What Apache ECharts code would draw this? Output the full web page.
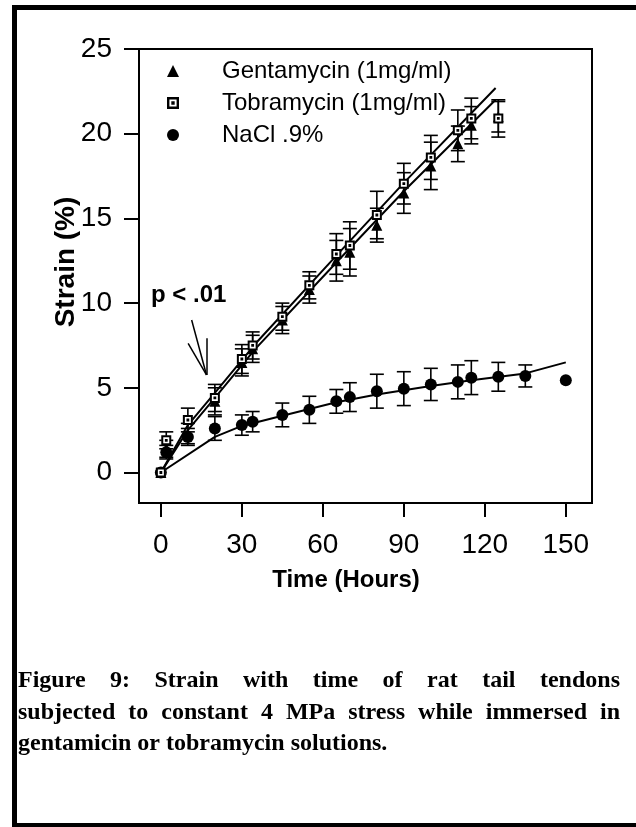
<!DOCTYPE html>
<html>
<head>
<meta charset="utf-8">
<script src="https://cdn.jsdelivr.net/npm/echarts@6.0.0/dist/echarts.min.js"></script>
<style>
  html, body { margin: 0; padding: 0; background: #fff; }
  #chart { width: 636px; height: 827px; }
</style>
</head>
<body>
<div id="chart"></div>
<script>
// sampling times (hours)
var times = [0, 2, 10, 20, 30, 34, 45, 55, 65, 70, 80, 90, 100, 110, 115, 125];
var gentaMean = [0, 1.4, 2.3, 4.2, 6.5, 7.3, 9.0, 10.8, 12.5, 13.0, 14.6, 16.5, 18.1, 19.4, 20.5, 21.0];
var gentaErr  = [0, 0.5, 0.6, 0.8, 0.8, 0.8, 0.8, 0.8, 1.2, 1.4, 1.0, 1.2, 1.4, 1.05, 1.1, 0.9];
var tobraMean = [0, 1.9, 3.1, 4.4, 6.7, 7.5, 9.2, 11.05, 12.9, 13.4, 15.2, 17.05, 18.6, 20.2, 20.9, 20.9];
var tobraErr  = [0, 0.5, 0.7, 0.8, 0.85, 0.8, 0.8, 0.8, 1.2, 1.4, 1.4, 1.2, 1.3, 1.2, 1.2, 1.1];

var naclTimes = [0, 2, 10, 20, 30, 34, 45, 55, 65, 70, 80, 90, 100, 110, 115, 125, 135, 150];
var naclMean  = [0, 1.2, 2.1, 2.6, 2.8, 3.0, 3.4, 3.7, 4.2, 4.45, 4.8, 4.95, 5.2, 5.35, 5.6, 5.65, 5.7, 5.45];
var naclErr   = [0, 0.4, 0.5, 0.7, 0.6, 0.6, 0.7, 0.8, 0.7, 0.85, 1.0, 1.0, 0.95, 1.0, 1.0, 0.85, 0.65, 0];

// fitted lines as drawn in the figure
var drugFitT  = [0, 10, 20, 35, 65, 90, 124];
var tobraFitS = [0, 2.8, 4.7, 7.6, 12.8, 17.1, 22.7];
var gentaFitS = [0, 2.5, 4.4, 7.3, 12.4, 16.6, 22.0];
var naclFitT  = [0, 20, 30, 45, 65, 80, 100, 115, 135, 150];
var naclFitS  = [0, 2.1, 2.75, 3.35, 4.15, 4.6, 5.1, 5.45, 5.85, 6.5];

// axis ticks
var xTicks = [0, 30, 60, 90, 120, 150];
var yTicks = [0, 5, 10, 15, 20, 25];

// "p < .01" arrow (shaft + two barbs), data units
var arrowTail = [11.4, 9.0];
var arrowTip = [16.9, 5.76];
var arrowBarbs = [[10.1, 7.63], [16.9, 7.92]];

var captionLines = [
  'Figure 9: Strain with time of rat tail tendons',
  'subjected to constant 4 MPa stress while immersed in',
  'gentamicin or tobramycin solutions.'
];

var SANS = '"Liberation Sans", Arial, Helvetica, sans-serif';
var SERIF = '"Liberation Serif", "Times New Roman", serif';
var squareIcon = 'path://M0,0H10V10H0Z M2,2V8H8V2Z M3.6,3.6H6.4V6.4H3.6Z';

function zip(a, b) {
  var out = [];
  for (var i = 0; i < a.length; i++) out.push([a[i], b[i]]);
  return out;
}
function zip3(a, b, c) {
  var out = [];
  for (var i = 0; i < a.length; i++) out.push([a[i], b[i], c[i]]);
  return out;
}

// error bar with caps
function errorItem(params, api) {
  var x = api.value(0), y = api.value(1), e = api.value(2);
  if (!e) return { type: 'group', children: [] };
  var top = api.coord([x, y + e]);
  var bot = api.coord([x, y - e]);
  var w = 7;
  var st = { stroke: '#000', lineWidth: 1.6 };
  return {
    type: 'group',
    children: [
      { type: 'line', shape: { x1: top[0], y1: top[1], x2: bot[0], y2: bot[1] }, style: st },
      { type: 'line', shape: { x1: top[0] - w, y1: top[1], x2: top[0] + w, y2: top[1] }, style: st },
      { type: 'line', shape: { x1: bot[0] - w, y1: bot[1], x2: bot[0] + w, y2: bot[1] }, style: st }
    ]
  };
}

function errSeries(data) {
  return {
    type: 'custom', renderItem: errorItem, data: data, z: 3,
    encode: { x: 0, y: 1 }, silent: true
  };
}

function fitSeries(data, extra) {
  var s = {
    type: 'line', data: data, showSymbol: false, symbol: 'none', z: 2, silent: true,
    lineStyle: { color: '#000', width: 2 }
  };
  for (var k in extra) s[k] = extra[k];
  return s;
}

// caption words laid out justified like the printed page
function captionGraphics() {
  var font = 'bold 24px ' + SERIF;
  var ctx = document.createElement('canvas').getContext('2d');
  ctx.font = font;
  var left = 18, right = 620, y0 = 681, pitch = 31.5;
  var els = [];
  captionLines.forEach(function (line, li) {
    var y = y0 + li * pitch;
    var words = line.split(' ');
    var justify = li < captionLines.length - 1;
    var widths = words.map(function (w) { return ctx.measureText(w).width; });
    var sum = widths.reduce(function (a, b) { return a + b; }, 0);
    var gap = justify ? (right - left - sum) / (words.length - 1) : ctx.measureText(' ').width;
    var x = left;
    words.forEach(function (w, i) {
      els.push({ type: 'text', x: x, y: y, silent: true,
        style: { text: w, font: font, fill: '#000', textAlign: 'left', textVerticalAlign: 'middle' } });
      x += widths[i] + gap;
    });
  });
  return els;
}

var chart = echarts.init(document.getElementById('chart'));

var option = {
  backgroundColor: '#fff',
  animation: false,
  grid: {
    left: 139, top: 49, width: 453, height: 454,
    show: true, borderColor: '#000', borderWidth: 2, backgroundColor: 'transparent'
  },
  legend: {
    orient: 'vertical', left: 162, top: 54,
    itemWidth: 12, itemHeight: 12, itemGap: 8,
    selectedMode: false,
    textStyle: { fontFamily: SANS, fontSize: 24, color: '#000', lineHeight: 24, padding: [0, 0, 0, 38] },
    data: [
      { name: 'Gentamycin (1mg/ml)', icon: 'triangle' },
      { name: 'Tobramycin (1mg/ml)', icon: squareIcon },
      { name: 'NaCl .9%', icon: 'circle' }
    ]
  },
  xAxis: {
    type: 'value', min: -8.1, max: 159.7,
    splitLine: { show: false },
    axisLine: { show: true, onZero: false, lineStyle: { color: '#000', width: 2 } },
    axisTick: { show: true, length: 14, customValues: xTicks, lineStyle: { color: '#000', width: 2 } },
    axisLabel: { customValues: xTicks, margin: 28, color: '#000', fontFamily: SANS, fontSize: 28 }
  },
  yAxis: {
    type: 'value', min: -1.8, max: 25,
    splitLine: { show: false },
    axisLine: { show: true, onZero: false, lineStyle: { color: '#000', width: 2 } },
    axisTick: { show: true, length: 15, customValues: yTicks, lineStyle: { color: '#000', width: 2 } },
    axisLabel: { customValues: yTicks, margin: 27, color: '#000', fontFamily: SANS, fontSize: 28 }
  },
  series: [
    fitSeries(zip(drugFitT, tobraFitS), {
      markLine: {
        silent: true, symbol: ['none', 'none'], label: { show: false },
        lineStyle: { color: '#000', width: 1.5, type: 'solid' },
        data: [
          [{ coord: arrowTail }, { coord: arrowTip }],
          [{ coord: arrowBarbs[0] }, { coord: arrowTip }],
          [{ coord: arrowBarbs[1] }, { coord: arrowTip }]
        ]
      }
    }),
    fitSeries(zip(drugFitT, gentaFitS)),
    fitSeries(zip(naclFitT, naclFitS)),
    errSeries(zip3(times, gentaMean, gentaErr)),
    errSeries(zip3(times, tobraMean, tobraErr)),
    errSeries(zip3(naclTimes, naclMean, naclErr)),
    {
      name: 'NaCl .9%', type: 'scatter', z: 4, symbol: 'circle', symbolSize: 12,
      itemStyle: { color: '#000', opacity: 1 }, data: zip(naclTimes, naclMean)
    },
    {
      name: 'Gentamycin (1mg/ml)', type: 'scatter', z: 4, symbol: 'triangle', symbolSize: 11,
      itemStyle: { color: '#000', opacity: 1 }, data: zip(times, gentaMean)
    },
    // white backing so the open squares hide what lies under them
    {
      type: 'scatter', z: 5, symbol: 'rect', symbolSize: 9, silent: true,
      itemStyle: { color: '#fff', opacity: 1 }, data: zip(times, tobraMean)
    },
    {
      name: 'Tobramycin (1mg/ml)', type: 'scatter', z: 6, symbol: squareIcon, symbolSize: 10,
      itemStyle: { color: '#000', opacity: 1 }, data: zip(times, tobraMean)
    }
  ],
  graphic: [
    // outer page frame
    { type: 'rect', silent: true, shape: { x: 14.5, y: 7.5, width: 700, height: 818 },
      style: { fill: 'none', stroke: '#000', lineWidth: 5 } },
    { type: 'text', x: 346, y: 580, silent: true,
      style: { text: 'Time (Hours)', font: 'bold 24px ' + SANS, fill: '#000', textAlign: 'center', textVerticalAlign: 'middle' } },
    { type: 'text', x: 66, y: 262, rotation: Math.PI / 2, silent: true,
      style: { text: 'Strain (%)', font: 'bold 28px ' + SANS, fill: '#000', textAlign: 'center', textVerticalAlign: 'middle' } },
    { type: 'text', x: 151, y: 295, silent: true,
      style: { text: 'p < .01', font: 'bold 24px ' + SANS, fill: '#000', textAlign: 'left', textVerticalAlign: 'middle' } }
  ].concat(captionGraphics())
};

chart.setOption(option);
</script>
</body>
</html>
